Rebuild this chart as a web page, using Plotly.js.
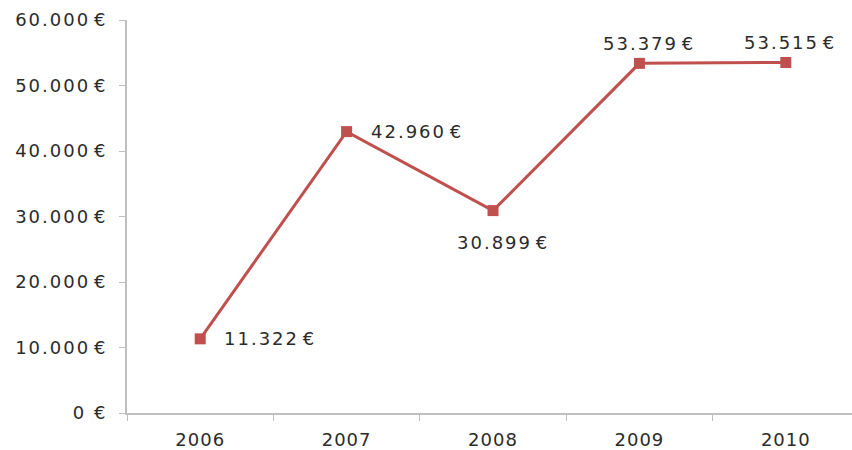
<!DOCTYPE html>
<html><head><meta charset="utf-8">
<script src="https://cdn.plot.ly/plotly-3.0.1.min.js"></script>
<style>body{margin:0}.ytick text,.annotation-text{letter-spacing:2px}.xtick text{letter-spacing:1px}</style>
</head><body><div id="chart" style="width:852px;height:450px"></div>
<script>
var years = ["2006","2007","2008","2009","2010"];
var values = [11322, 42960, 30899, 53379, 53515];
var valueLabels = ["11.322\u200A€","42.960\u200A€","30.899\u200A€","53.379\u200A€","53.515\u200A€"];
var yTickVals = [0,10000,20000,30000,40000,50000,60000];
var yTickText = ["0 €","10.000\u200A€","20.000\u200A€","30.000\u200A€","40.000\u200A€","50.000\u200A€","60.000\u200A€"];
var labelXAnchor = ["left","left","center","center","center"];
var labelXShift = [22,22,10,10,4];
var labelYShift = [0,0,-32,20,20];

var red = "#c0504d";
var font = {family:"DejaVu Sans, Verdana, sans-serif", size:18, color:"#2b2b2b"};

var trace = {x: years, y: values, type:"scatter", mode:"lines+markers",
  line:{color:red, width:3}, marker:{symbol:"square", size:11, color:red},
  hoverinfo:"none", cliponaxis:false};

var annotations = years.map(function(yr,i){
  return {xref:"x", yref:"y", x: i, y: values[i], text: valueLabels[i], showarrow:false,
    xanchor: labelXAnchor[i], yanchor:"middle", xshift: labelXShift[i], yshift: labelYShift[i],
    font: font};
});

var layout = {
  width:852, height:450,
  margin:{l:127, r:0, t:20, b:37},
  paper_bgcolor:"#ffffff", plot_bgcolor:"#ffffff",
  showlegend:false,
  font: font,
  xaxis:{type:"category", range:[-0.5,4.452], showgrid:false, zeroline:false,
    showline:true, linecolor:"#bfbfbf", linewidth:2,
    ticks:"outside", tickson:"boundaries", ticklen:6, tickcolor:"#bfbfbf", tickwidth:1,
    tickfont:font, ticklabelstandoff:9},
  yaxis:{range:[0,60000], tickvals:yTickVals, ticktext:yTickText, showgrid:false, zeroline:false,
    showline:true, linecolor:"#bfbfbf", linewidth:2,
    ticks:"outside", ticklen:6, tickcolor:"#bfbfbf", tickwidth:1,
    tickfont:font, ticklabelstandoff:8},
  annotations: annotations
};
Plotly.newPlot("chart",[trace],layout,{displayModeBar:false, staticPlot:true});
</script></body></html>
